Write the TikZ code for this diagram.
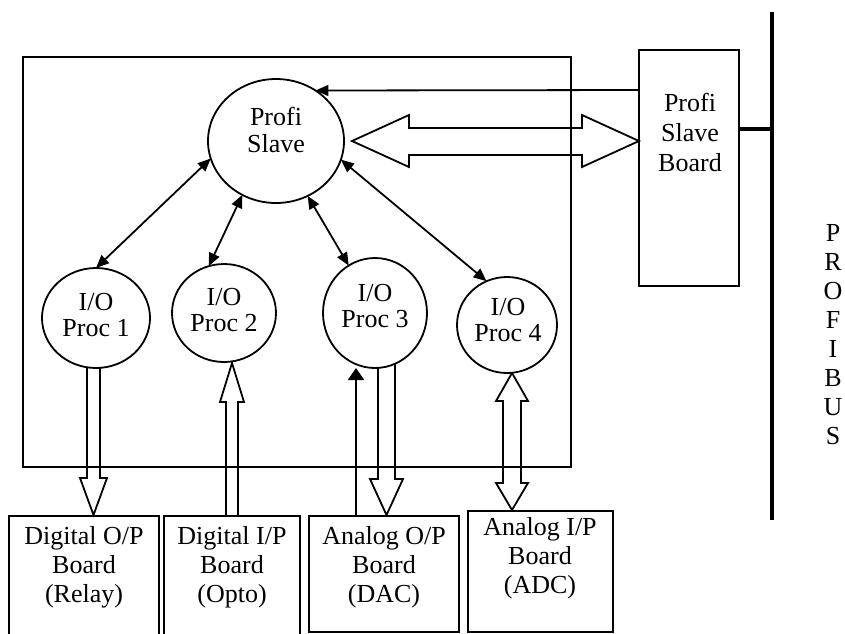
\documentclass[tikz,border=0pt]{standalone}
\usepackage{fontspec}
\setmainfont{Liberation Serif}
\usetikzlibrary{shapes.geometric,arrows.meta}
\begin{document}
\begin{tikzpicture}[x=1pt,y=-1pt,
  line width=1.8pt,
  txt/.style={align=center,font=\fontsize{26}{#1}\selectfont,inner sep=0pt},
  txt/.default=28,
  oval/.style={draw,ellipse,fill=white,inner sep=0pt,outer sep=0pt},
  box/.style={draw,rectangle,inner sep=0pt,outer sep=0pt},
  fat/.style={draw,fill=white,line join=miter},
  dbl/.style={{Triangle[length=13pt,width=11pt]}-{Triangle[length=13pt,width=11pt]}}
]
\useasboundingbox (0,0) rectangle (845,633);

% block arrows (filled white, below frame and ovals)
\draw[fat] (87,350) -- (87,478) -- (80,478) -- (93.5,515) -- (107,478) -- (100,478) -- (100,350) -- cycle;
\draw[fat] (226,516) -- (226,402) -- (220,402) -- (232,363) -- (244,402) -- (238,402) -- (238,516) -- cycle;
\draw[fat] (378,350) -- (378,479) -- (370,479) -- (386.5,515) -- (403,479) -- (395,479) -- (395,350) -- cycle;
\draw[fat] (503,401) -- (503,483) -- (496,483) -- (512,510) -- (528,483) -- (521,483) -- (521,401) -- (528,401) -- (512,373) -- (496,401) -- cycle;
\draw[fat] (352,141) -- (409,115) -- (409,128) -- (582,128) -- (582,115) -- (639,141) -- (582,167) -- (582,155) -- (409,155) -- (409,167) -- cycle;

% frame
\node[box,minimum width=548pt,minimum height=410pt] (frame) at (297,262) {};

% ovals
\node[oval,minimum width=136pt,minimum height=124pt] (ps) at (276,141) {};
\node[txt=27] (pst) at (276,130) {Profi\\Slave};
\node[oval,minimum width=108pt,minimum height=100pt] (p1) at (96,318) {};
\node[txt=26] (p1t) at (96,315) {I/O\\Proc 1};
\node[oval,minimum width=104pt,minimum height=98pt] (p2) at (224,313) {};
\node[txt=26] (p2t) at (224,310) {I/O\\Proc 2};
\node[oval,minimum width=104pt,minimum height=110pt] (p3) at (375,313) {};
\node[txt=26] (p3t) at (375,306) {I/O\\Proc 3};
\node[oval,minimum width=100pt,minimum height=96pt] (p4) at (507,325) {};
\node[txt=26] (p4t) at (508,320) {I/O\\Proc 4};

% profi slave board
\node[box,minimum width=100pt,minimum height=236pt] (board) at (689,168) {};
\node[txt=30] (boardt) at (690,132) {Profi\\Slave\\Board};

% bus
\coordinate (bustop) at (772,12);
\coordinate (busbot) at (772,520);
\draw[line width=4pt] (bustop) -- (busbot);
\draw[line width=3.5pt] (board.east |- 0,129) -- (bustop |- 0,129);
\node[txt=29] (bust) at (833,335) {P\\R\\O\\F\\I\\B\\U\\S};

% bottom boards
\node[box,minimum width=150pt,minimum height=124pt] (b1) at (84,578) {};
\node[txt=29] (b1t) at (84,567) {Digital O/P\\Board\\(Relay)};
\node[box,minimum width=136pt,minimum height=124pt] (b2) at (232,578) {};
\node[txt=29] (b2t) at (232,567) {Digital I/P\\Board\\(Opto)};
\node[box,minimum width=150pt,minimum height=116pt] (b3) at (384,574) {};
\node[txt=29] (b3t) at (384,567) {Analog O/P\\Board\\(DAC)};
\node[box,minimum width=145pt,minimum height=121pt] (b4) at (540.5,571.5) {};
\node[txt=29] (b4t) at (540,558) {Analog I/P\\Board\\(ADC)};

% thin connectors
\draw[-{Triangle[length=13pt,width=11pt]}] (board.west |- 0,90) -- (ps.52.6);
\draw[dbl] (p1.north) -- (ps.195);
\draw[dbl] (p2.108) -- (ps.238);
\draw[dbl] (p3.119) -- (ps.300);
\draw[dbl] (p4.115) -- (ps.344);
\draw[-{Triangle[length=12pt,width=16pt]}] (b3.north -| 356,0) -- (p3.south -| 356,0);
\end{tikzpicture}
\end{document}
